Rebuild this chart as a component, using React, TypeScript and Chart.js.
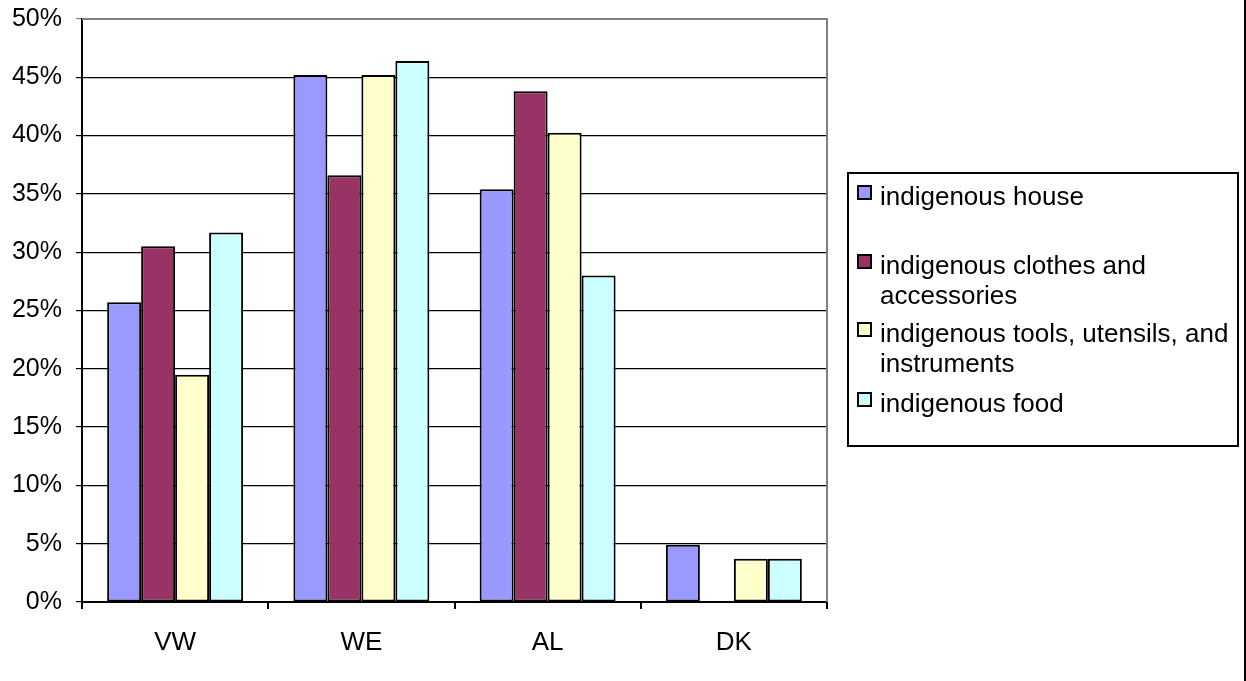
import React, { useEffect, useRef } from "react";
import { Chart, registerables } from "chart.js";

Chart.register(...registerables);

const categories = ["VW", "WE", "AL", "DK"];
const seriesNames = [
  "indigenous house",
  "indigenous clothes and accessories",
  "indigenous tools, utensils, and instruments",
  "indigenous food",
];
const houseValues = [0.257, 0.452, 0.354, 0.049];
const clothesValues = [0.305, 0.366, 0.438, 0];
const toolsValues = [0.195, 0.452, 0.4025, 0.037];
const foodValues = [0.317, 0.464, 0.28, 0.037];
const seriesColors = ["#9999FF", "#993366", "#FFFFCC", "#CCFFFF"];
const yMin = 0;
const yMax = 0.5;
const yStep = 0.05;

const FONT = "'Liberation Sans', Arial, sans-serif";

const framePlugin = {
  id: "frame",
  afterDatasetsDraw(chart: any) {
    const { ctx, chartArea } = chart;
    ctx.save();
    ctx.strokeStyle = "#808080";
    ctx.lineWidth = 2;
    ctx.beginPath();
    ctx.moveTo(chartArea.left, chartArea.top);
    ctx.lineTo(chartArea.right, chartArea.top);
    ctx.lineTo(chartArea.right, chartArea.bottom);
    ctx.stroke();
    ctx.restore();
  },
};

export default function App() {
  const canvasRef = useRef<HTMLCanvasElement>(null);

  useEffect(() => {
    const allValues = [houseValues, clothesValues, toolsValues, foodValues];
    const chart = new Chart(canvasRef.current!, {
      type: "bar",
      data: {
        labels: categories,
        datasets: allValues.map((vals, i) => ({
          label: seriesNames[i],
          data: vals,
          backgroundColor: seriesColors[i],
          borderColor: "#000000",
          borderWidth: 2,
          borderSkipped: false,
          categoryPercentage: 0.73,
          barPercentage: 1,
        })),
      },
      options: {
        animation: false,
        responsive: false,
        maintainAspectRatio: false,
        layout: { padding: { left: 0, top: 19, right: 419, bottom: 0 } },
        plugins: {
          legend: { display: false },
          tooltip: { enabled: false },
        },
        scales: {
          x: {
            offset: true,
            grid: {
              offset: true,
              drawOnChartArea: false,
              drawTicks: true,
              tickLength: 7,
              color: "#000000",
              lineWidth: 2,
            },
            border: { color: "#000000", width: 2 },
            ticks: {
              color: "#000000",
              padding: 18,
              font: { family: FONT, size: 26 },
            },
            afterFit: (scale: any) => {
              scale.height = 79;
              scale.paddingLeft = 0;
              scale.paddingRight = 0;
            },
          },
          y: {
            min: yMin,
            max: yMax,
            ticks: {
              stepSize: yStep,
              color: "#000000",
              padding: 14,
              font: { family: FONT, size: 25 },
              callback: (v: any) => Math.round(Number(v) * 100) + "%",
            },
            grid: {
              drawTicks: true,
              tickLength: 6,
              lineWidth: 1.2,
              color: (c: any) =>
                c.tick && Math.abs(c.tick.value - yMax) < 1e-9 ? "#808080" : "#000000",
            },
            border: { color: "#000000", width: 2 },
            afterFit: (scale: any) => {
              scale.width = 82;
              scale.paddingTop = 0;
              scale.paddingBottom = 0;
            },
          },
        },
      },
      plugins: [framePlugin],
    });
    return () => chart.destroy();
  }, []);

  const itemTops = [181, 250, 318, 388];

  return (
    <div
      style={{
        position: "fixed",
        left: 0,
        top: 0,
        width: 1246,
        height: 681,
        background: "#ffffff",
        fontFamily: FONT,
      }}
    >
      <canvas ref={canvasRef} width={1246} height={681} style={{ position: "absolute", left: 0, top: 0 }} />
      <div
        style={{
          position: "absolute",
          left: 847,
          top: 172,
          width: 392,
          height: 275,
          border: "2px solid #000",
          boxSizing: "border-box",
        }}
      />
      {seriesNames.map((name, i) => (
        <div key={name}>
          <div
            style={{
              position: "absolute",
              left: 857,
              top: itemTops[i] + 4,
              width: 15,
              height: 15,
              boxSizing: "border-box",
              border: "2px solid #000",
              background: seriesColors[i],
            }}
          />
          <div
            style={{
              position: "absolute",
              left: 880,
              top: itemTops[i],
              width: 355,
              fontSize: 26,
              lineHeight: "30px",
              color: "#000",
            }}
          >
            {name}
          </div>
        </div>
      ))}
      <div
        style={{
          position: "absolute",
          left: 1244,
          top: 0,
          width: 2,
          height: 681,
          background: "#000",
        }}
      />
    </div>
  );
}
